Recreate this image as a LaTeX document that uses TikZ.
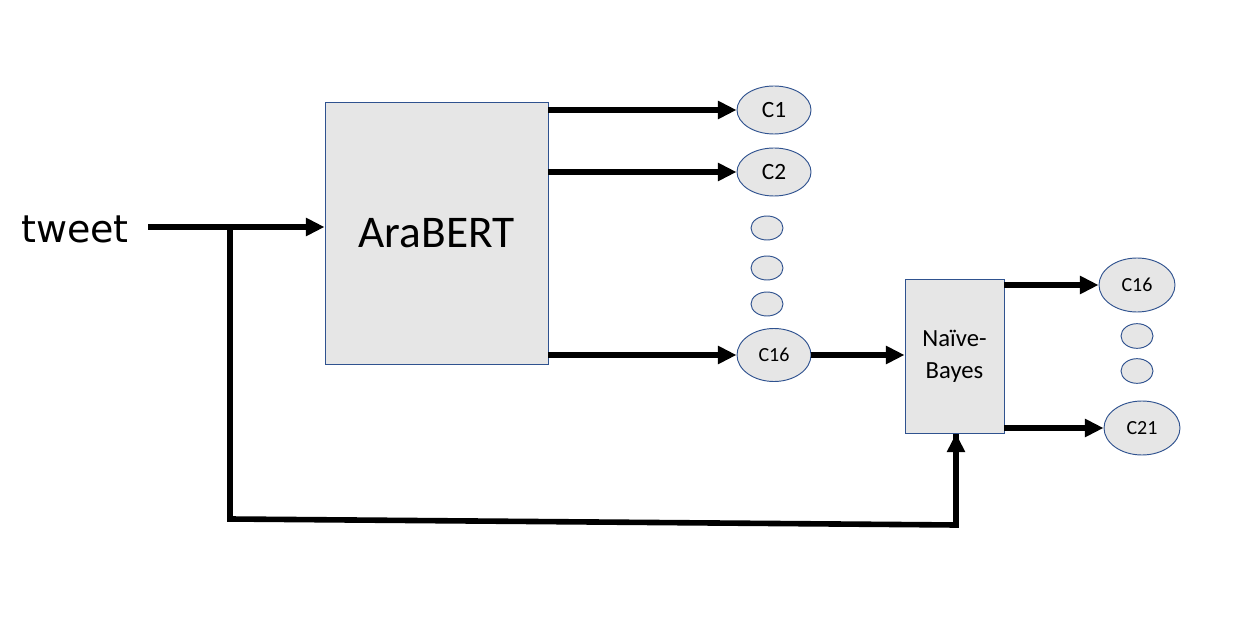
\documentclass[tikz,border=0pt]{standalone}
\usepackage{fontspec}
\setmainfont{Carlito}
\newfontfamily\dejavu{DejaVu Sans}
\usetikzlibrary{arrows.meta,shapes.geometric}
\definecolor{boxfill}{RGB}{230,230,230}
\definecolor{boxline}{RGB}{47,82,143}
\tikzset{
  blockbox/.style={draw=boxline, line width=0.7pt, fill=boxfill, rectangle, inner sep=0pt},
  classell/.style={draw=boxline, line width=0.7pt, fill=boxfill, ellipse, inner sep=0pt},
  bigarrow/.style={line width=4.2pt, -{Triangle[length=14pt,width=13pt]}},
  thickline/.style={line width=4.2pt},
}
\begin{document}
\begin{tikzpicture}[x=0.75pt,y=-0.75pt]
\useasboundingbox (0,0) rectangle (1259,634);
% blocks
\node[blockbox, minimum width=167.25pt, minimum height=196.5pt, font=\fontsize{34}{40}\selectfont] (ara) at (436.5,233) {AraBERT};
\node[blockbox, minimum width=74.25pt, minimum height=115.5pt, align=center, font=\fontsize{18.5}{24}\selectfont] (nb) at (954.5,356)
  {Naïve-\\Bayes};
% tweet
\node[font=\dejavu\fontsize{28.5}{32}\selectfont] (tw) at (75,229) {tweet};
\coordinate (tstart) at (148,227);
\coordinate (br) at (230,227);
\coordinate (bl) at (230,519);
\coordinate (brr) at (956,525);
% class ellipses left
\node[classell, minimum width=55.5pt, minimum height=36pt, font=\fontsize{17.5}{20}\selectfont] (c1) at (774,110) {C1};
\node[classell, minimum width=55.5pt, minimum height=36pt, font=\fontsize{17.5}{20}\selectfont] (c2) at (774,172) {C2};
\node[classell, minimum width=24pt, minimum height=18pt] (d1) at (767,228) {};
\node[classell, minimum width=24pt, minimum height=18pt] (d2) at (767,268) {};
\node[classell, minimum width=24pt, minimum height=18pt] (d3) at (767,304) {};
\node[classell, minimum width=55.5pt, minimum height=39.75pt, font=\fontsize{15}{18}\selectfont] (c16a) at (774,355) {C16};
% class ellipses right
\node[classell, minimum width=57pt, minimum height=40.5pt, font=\fontsize{15}{18}\selectfont] (c16b) at (1137,285) {C16};
\node[classell, minimum width=24pt, minimum height=18.5pt] (d4) at (1137,336) {};
\node[classell, minimum width=24pt, minimum height=18.5pt] (d5) at (1137,371) {};
\node[classell, minimum width=57pt, minimum height=40.5pt, font=\fontsize{15}{18}\selectfont] (c21) at (1142,428) {C21};
% connectors
\draw[bigarrow] (tstart) -- (ara.west |- tstart);
\draw[thickline, line join=miter] (br) -- (bl) -- (brr) -- ([yshift=-0.4pt]brr |- nb.south);
\draw[bigarrow] (brr) -- (brr |- nb.south);
\draw[bigarrow] (ara.east |- c1) -- (c1.west);
\draw[bigarrow] (ara.east |- c2) -- (c2.west);
\draw[bigarrow] (ara.east |- c16a) -- (c16a.west);
\draw[bigarrow] (c16a.east) -- (nb.west |- c16a);
\draw[bigarrow] (nb.east |- c16b) -- (c16b.west);
\draw[bigarrow] (nb.east |- c21) -- (c21.west);
\end{tikzpicture}
\end{document}
